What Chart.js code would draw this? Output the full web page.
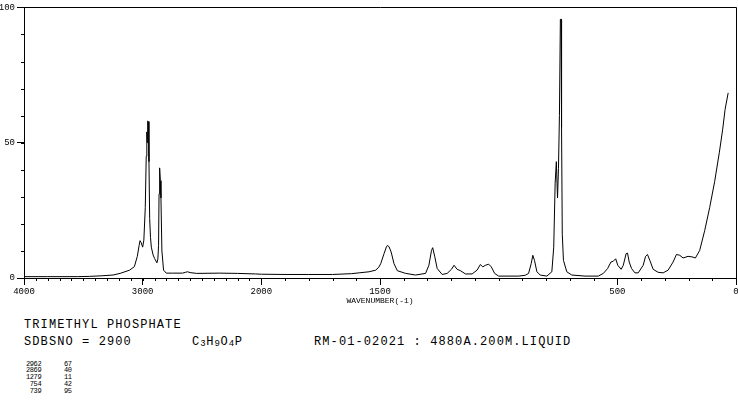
<!DOCTYPE html>
<html>
<head>
<meta charset="utf-8">
<script src="https://cdn.jsdelivr.net/npm/chart.js@4.4.0/dist/chart.umd.min.js"></script>
<style>
  html, body { margin: 0; padding: 0; background: #fff; }
  #page { position: relative; width: 738px; height: 408px; overflow: hidden; font-family: 'Liberation Mono', monospace; color: #000; }
  #plot { position: absolute; left: 0; top: 0; width: 738px; height: 310px; }
  .big { position: absolute; font-size: 12px; line-height: 12px; letter-spacing: 1.1px; white-space: pre; }
  .big sub { font-size: 9px; vertical-align: -1px; letter-spacing: 0.5px; }
  #peaks { position: absolute; left: 26px; top: 360.5px; font-size: 7px; line-height: 6.8px; letter-spacing: -0.4px; white-space: pre; }
</style>
</head>
<body>
<div id="page">
  <div id="plot"><canvas id="spectrum"></canvas></div>
  <div class="big" style="left:24px;top:319px">TRIMETHYL PHOSPHATE</div>
  <div class="big" style="left:24px;top:336px">SDBSNO = 2900</div>
  <div class="big" style="left:192px;top:336px">C<sub>3</sub>H<sub>9</sub>O<sub>4</sub>P</div>
  <div class="big" style="left:314px;top:336px">RM-01-02021 : 4880A.200M.LIQUID</div>
  <div id="peaks"></div>
</div>
<script>
// Raman spectrum, wavenumber (cm-1) vs relative intensity
const wavenumbers = [
  4000, 3800, 3550, 3450, 3350, 3250, 3190, 3110, 3070, 3045, 3030, 3022, 3012, 3000, 2990,
  2978, 2970, 2965, 2962, 2958, 2952, 2947, 2941, 2934, 2927, 2912, 2899, 2880, 2872, 2866,
  2862, 2857, 2851, 2846, 2838, 2824, 2801, 2750, 2664, 2640, 2622, 2600, 2546, 2353, 2200,
  2050, 2000, 1900, 1800, 1700, 1620, 1588, 1546, 1518, 1505, 1497, 1483, 1473, 1469, 1462,
  1453, 1441, 1427, 1392, 1350, 1308, 1294, 1283, 1278, 1269, 1259, 1238, 1217, 1199, 1188,
  1175, 1161, 1140, 1112, 1091, 1077, 1067, 1056, 1042, 1031, 1017, 1000, 916, 888, 874,
  863, 856, 849, 839, 825, 797, 776, 768, 762, 757, 752, 748, 744, 740, 737,
  735, 732, 727, 713, 692, 636, 580, 559, 541, 527, 517, 507, 498, 484, 475,
  463, 457, 450, 440, 426, 412, 391, 381, 373, 363, 349, 328, 307, 286, 265,
  251, 237, 223, 202, 185, 171, 153, 132, 111, 90, 70, 56, 46, 33
];
const intensities = [
  0.5, 0.5, 0.5, 0.6, 0.8, 1.1, 1.7, 2.9, 4.2, 8, 12, 13.8, 13, 11.4, 14,
  26, 45, 54, 50, 58, 57.8, 43, 22, 15, 11.4, 8.5, 7.2, 5.6, 7, 12,
  31, 40.7, 36, 29.6, 10, 2.9, 1.8, 1.8, 1.8, 2.1, 2.3, 2.0, 1.7, 1.8, 1.7,
  1.5, 1.4, 1.3, 1.3, 1.3, 1.6, 1.9, 2.3, 2.9, 4, 5.3, 9, 11.5, 12, 11.6,
  9.6, 5.3, 2.7, 1.7, 1.1, 1.7, 4.7, 10.2, 11.2, 7.8, 3.5, 1.3, 1.7, 3.2, 4.7,
  3.2, 2.7, 1.5, 1.5, 2.9, 5, 4.1, 4.7, 5.1, 4.1, 1.7, 0.7, 0.7, 1, 1.7,
  5.3, 8.4, 6.5, 2.3, 1.1, 0.7, 2.3, 11.4, 35, 43, 29.6, 40.5, 60, 95.6, 95.6,
  55.6, 16.2, 6.5, 2.3, 1.1, 0.7, 0.7, 1.7, 3.5, 5.9, 6.2, 7.1, 4.7, 3.2, 4.7,
  9, 9.2, 5.9, 3.5, 1.9, 1.9, 4.7, 8, 8.7, 6.5, 3.2, 2.1, 1.9, 2.9, 5.9,
  8.7, 8.4, 7.4, 8, 7.8, 7.4, 10.2, 17.5, 26, 35.6, 46.5, 55, 62.3, 68.4
];
const xTickLabels = [4000, 3000, 2000, 1500, 500, 0];
const yTickLabels = [0, 50, 100];
const peakWavenumbers = [2962, 2869, 1279, 754, 739];
const peakIntensities = [67, 40, 11, 42, 95];

const X_SPLIT = 2000;      // axis is compressed 2x above this wavenumber
const X_MINOR = 100;
const Y_MINOR = 10;

document.getElementById('peaks').textContent = peakWavenumbers
  .map((w, i) => String(w).padStart(4) + '      ' + String(peakIntensities[i]).padStart(2))
  .join('\n');

// linear scale with a break in slope at X_SPLIT (4000-2000 at half scale)
class SplitScale extends Chart.LinearScale {
  toDecimal(v) {
    const low = 4 / 6;
    return v <= X_SPLIT ? v / X_SPLIT * low : low + (v - X_SPLIT) / (this.max - X_SPLIT) * (1 - low);
  }
  getPixelForValue(v) {
    return v === null ? NaN : this.getPixelForDecimal(this.toDecimal(v));
  }
  getValueForPixel(p) {
    const d = this.getDecimalForPixel(p), low = 4 / 6;
    return d <= low ? d / low * X_SPLIT : X_SPLIT + (d - low) / (1 - low) * (this.max - X_SPLIT);
  }
}
SplitScale.id = 'split';
Chart.register(SplitScale);

// frame on top/right plus short minor ticks
const frameAndMinorTicks = {
  id: 'frameAndMinorTicks',
  afterDraw(chart) {
    const { ctx, chartArea: a, scales: { x, y } } = chart;
    ctx.save();
    ctx.strokeStyle = '#000';
    ctx.lineWidth = 1;
    ctx.beginPath();
    ctx.moveTo(a.left, Math.round(a.top) + 0.5);
    ctx.lineTo(Math.round(a.right) + 0.5, Math.round(a.top) + 0.5);
    ctx.lineTo(Math.round(a.right) + 0.5, a.bottom);
    for (let v = x.min; v <= x.max; v += X_MINOR) {
      const px = Math.round(x.getPixelForValue(v)) + 0.5;
      ctx.moveTo(px, a.bottom);
      ctx.lineTo(px, a.bottom + 3);
    }
    for (let v = y.min; v <= y.max; v += Y_MINOR) {
      const py = Math.round(y.getPixelForValue(v)) + 0.5;
      ctx.moveTo(a.left - 3, py);
      ctx.lineTo(a.left, py);
    }
    ctx.stroke();
    ctx.restore();
  }
};

Chart.defaults.font.family = "'Liberation Mono', monospace";
Chart.defaults.color = '#000';

new Chart(document.getElementById('spectrum'), {
  type: 'line',
  data: {
    datasets: [{
      data: wavenumbers.map((w, i) => ({ x: w, y: intensities[i] })),
      borderColor: '#000',
      borderWidth: 1,
      pointRadius: 0,
      tension: 0,
      fill: false
    }]
  },
  options: {
    responsive: true,
    maintainAspectRatio: false,
    animation: false,
    layout: { padding: { left: 0, right: 2, top: 3, bottom: 0 } },
    plugins: { legend: { display: false }, tooltip: { enabled: false } },
    scales: {
      x: {
        type: 'split',
        min: 0,
        max: 4000,
        reverse: true,
        afterBuildTicks: (s) => { s.ticks = xTickLabels.map(v => ({ value: v })); },
        afterFit: (s) => { s.height = 32; s.paddingLeft = 0; s.paddingRight = 0; },
        ticks: { autoSkip: false, maxRotation: 0, padding: 1, font: { size: 9 }, callback: (v) => String(v) },
        grid: { drawOnChartArea: false, tickLength: 7, color: '#000' },
        border: { color: '#000' },
        title: { display: true, text: 'WAVENUMBER(-1)', font: { size: 8 }, padding: { top: 0, bottom: 4 } }
      },
      y: {
        min: 0,
        max: 100,
        afterBuildTicks: (s) => { s.ticks = yTickLabels.map(v => ({ value: v })); },
        afterFit: (s) => { s.width = 24; },
        ticks: { padding: 2, font: { size: 9 }, callback: (v) => String(v) },
        grid: { drawOnChartArea: false, tickLength: 7, color: '#000' },
        border: { color: '#000' }
      }
    }
  },
  plugins: [frameAndMinorTicks]
});
</script>
</body>
</html>
